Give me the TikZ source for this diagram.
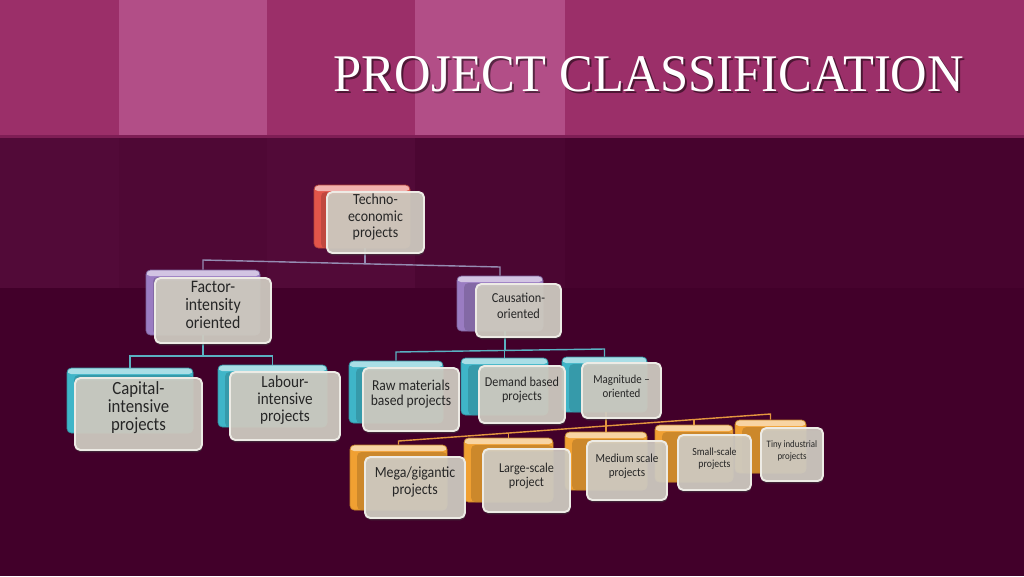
\documentclass[tikz,border=0pt]{standalone}
\usepackage{fontspec}
\setmainfont{Carlito}
\newfontfamily\boxfont{Carlito}[FakeStretch=0.9]
\newfontfamily\titlefont{Liberation Serif}
\usetikzlibrary{fit,shadows,calc}
\definecolor{bgdark}{HTML}{42002A}
\definecolor{bglight}{HTML}{520A38}
\definecolor{banddark}{HTML}{9B2F69}
\definecolor{bandlight}{HTML}{B24E87}
\definecolor{bandline}{HTML}{7E1E55}
\definecolor{cred}{HTML}{E2554A}
\definecolor{cpurple}{HTML}{9A7CC2}
\definecolor{ccyan}{HTML}{3FB5C8}
\definecolor{corange}{HTML}{F0A032}
\definecolor{boxfill}{HTML}{D8D4C9}
\definecolor{boxedge}{HTML}{EDEBE5}
\definecolor{boxtext}{HTML}{262626}
\definecolor{lavline}{HTML}{958CB2}
\definecolor{tealline}{HTML}{5AB2C2}
\definecolor{orline}{HTML}{E3963F}
\newcommand\bblock[3]{\node[backblk=#2, fit={#3}] (#1) {};}
\newcommand\frontbx[5]{\node[frontbox, fit={#2}, font={\boxfont\fontsize{#3}{#4}\selectfont}] (#1) {#5};}
\begin{document}
\begin{tikzpicture}[x=0.02cm,y=-0.02cm,
  backblk/.style={rounded corners=2.5pt, inner sep=0pt, fill=#1, draw=#1!80!black, line width=0.4pt,
    path picture={
      \fill[#1!45!white] (path picture bounding box.north west) rectangle ($(path picture bounding box.north east)+(0,-3.5pt)$);
      \fill[#1!85!black] ($(path picture bounding box.north west)+(4pt,-4pt)$) rectangle (path picture bounding box.south east);
    }},
  frontbox/.style={rounded corners=3pt, inner sep=0pt, fill=boxfill, fill opacity=0.88, text opacity=1, draw=boxedge, line width=1.1pt, text=boxtext, align=center,
    drop shadow={shadow xshift=0.3pt, shadow yshift=-1.3pt, opacity=0.55, fill=black!75}},
  lav/.style={draw=lavline, line width=0.8pt},
  teal/.style={draw=tealline, line width=0.8pt},
  orb/.style={draw=orline, line width=0.8pt}]
\useasboundingbox (0,0) rectangle (1024,576);
% background
\fill[bgdark] (0,0) rectangle (1024,576);
\fill[bglight] (0,137) rectangle (119,288);
\fill[bglight!80!bgdark] (119,137) rectangle (267,288);
\fill[bglight] (267,137) rectangle (415,288);
\fill[bglight!60!bgdark] (415,137) rectangle (565,288);
\fill[bglight!30!bgdark] (565,137) rectangle (1024,288);
\fill[banddark] (0,0) rectangle (1024,137);
\fill[bandlight] (119,0) rectangle (267,137);
\fill[bandlight] (415,0) rectangle (565,137);
\fill[bandline] (0,135) rectangle (1024,138);
% title
\node[anchor=base, inner sep=0pt, text=black, text opacity=0.5] (titleshadow) at (650.5,93.5) {\titlefont\resizebox{12.62cm}{0.7cm}{PROJECT CLASSIFICATION}};
\node[anchor=base, inner sep=0pt, text=white] (title) at (648.5,91.5) {\titlefont\resizebox{12.62cm}{0.7cm}{PROJECT CLASSIFICATION}};
% back blocks
\bblock{technob}{cred}{(314,185)(410,248)}
\bblock{factorb}{cpurple}{(146,270)(260,335)}
\bblock{causb}{cpurple}{(457,276)(543,331)}
\bblock{capb}{ccyan}{(67,368)(193,433)}
\bblock{labb}{ccyan}{(218,365)(327,427)}
\bblock{rawb}{ccyan}{(349,361)(443,423)}
\bblock{demb}{ccyan}{(461,358)(548,415)}
\bblock{magb}{ccyan}{(562,357)(647,412)}
\bblock{megab}{corange}{(350,445)(447,510)}
\bblock{largeb}{corange}{(464,438)(553,502)}
\bblock{medb}{corange}{(565,432)(647,490)}
\bblock{smallb}{corange}{(655,425)(733,482)}
\bblock{tinyb}{corange}{(735,420)(806,473)}
% bus coordinates
\coordinate (tM) at (365,263.5);
\coordinate (tL) at (203,260);
\coordinate (tR) at (500,267);
\coordinate (fM) at (203,356);
\coordinate (cM) at (505,350);
\coordinate (cL) at (396,352);
\coordinate (cR) at (604.5,349);
\coordinate (oL) at (398.5,441);
\coordinate (o2) at (508.5,433);
\coordinate (o3) at (606,426);
\coordinate (o4) at (694,419.5);
\coordinate (oR) at (770.5,414);
% connectors
\draw[lav] (tM |- technob.south) -- (tM);
\draw[lav] (factorb.north) -- (tL) -- (tR) -- (causb.north);
\draw[teal] (fM |- factorb.south) -- (fM);
\draw[teal] (capb.north) -- (capb.north |- fM) -- (labb.north |- fM) -- (labb.north);
\draw[teal] (cM |- causb.south) -- (cM);
\draw[teal] (rawb.north) -- (cL) -- (cR) -- (magb.north);
\draw[teal] (demb.north) -- (demb.north |- cM);
\draw[orb] (o3 |- magb.south) -- (o3);
\draw[orb] (megab.north) -- (oL) -- (oR) -- (tinyb.north);
\draw[orb] (o2) -- (largeb.north);
\draw[orb] (o3) -- (medb.north);
\draw[orb] (o4) -- (smallb.north);
% front boxes
\frontbx{techno}{(327,192)(424,253)}{8.8pt}{9.4pt}{Techno-\\economic\\projects}
\frontbx{factor}{(155,278)(271,343)}{10pt}{10pt}{Factor-\\intensity\\oriented}
\frontbx{caus}{(476,284)(561,337)}{7.8pt}{8.8pt}{Causation-\\oriented}
\frontbx{cap}{(75,378)(202,450)}{10.6pt}{10.2pt}{Capital-\\intensive\\projects}
\frontbx{lab}{(230,372)(340,440)}{9.6pt}{9.6pt}{Labour-\\intensive\\projects}
\frontbx{raw}{(363,368)(459,431)}{8.6pt}{8.6pt}{Raw materials\\based projects}
\frontbx{dem}{(479,366)(565,423)}{7.7pt}{7.9pt}{Demand based\\projects}
\frontbx{mag}{(582,363)(661,418)}{6.9pt}{7.9pt}{Magnitude –\\oriented}
\frontbx{mega}{(365,457)(465,518)}{8.8pt}{9.4pt}{Mega/gigantic\\projects}
\frontbx{large}{(483,449)(570,512)}{7.7pt}{8.2pt}{Large-scale\\project}
\frontbx{med}{(587,441)(667,500)}{7pt}{7.6pt}{Medium scale\\projects}
\frontbx{small}{(678,435)(751,490)}{6.2pt}{7.3pt}{Small-scale\\projects}
\frontbx{tiny}{(761,428)(823,481)}{5.6pt}{7pt}{Tiny industrial\\projects}
\end{tikzpicture}
\end{document}
